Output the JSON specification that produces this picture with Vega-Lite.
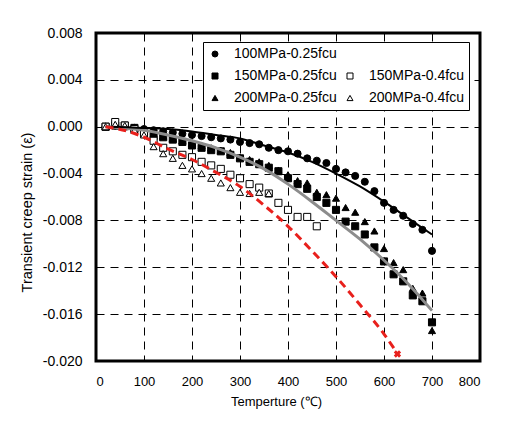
{
  "$schema": "https://vega.github.io/schema/vega-lite/v6.json",
  "width": 384,
  "height": 328,
  "autosize": "none",
  "padding": {"left": 96, "top": 33, "right": 29, "bottom": 70},
  "background": "white",
  "config": {
    "font": "Liberation Sans",
    "view": {"stroke": "black", "strokeWidth": 3},
    "axis": {
      "labelFont": "Liberation Sans", "labelFontSize": 13, "labelColor": "black",
      "titleFont": "Liberation Sans", "titleFontSize": 13, "titleFontWeight": "normal", "titleColor": "black",
      "domain": false, "ticks": false,
      "gridColor": "black", "gridDash": [8, 6], "gridWidth": 1, "gridOpacity": 1
    },
    "legend": {
      "title": null, "orient": "none", "legendX": 107, "legendY": 9, "columns": 2, "direction": "horizontal",
      "strokeColor": "black", "fillColor": "white", "padding": 5,
      "symbolSize": 36, "symbolStrokeWidth": 1,
      "labelOffset": 12, "labelFont": "Liberation Sans", "labelFontSize": 14, "labelColor": "black",
      "columnPadding": 6, "rowPadding": 8, "labelLimit": 300
    }
  },
  "datasets": {
    "points": [
      {"series": "100MPa-0.25fcu", "T": 20, "strain": 0.0000},
      {"series": "100MPa-0.25fcu", "T": 40, "strain": 0.0001},
      {"series": "100MPa-0.25fcu", "T": 60, "strain": 0.0000},
      {"series": "100MPa-0.25fcu", "T": 80, "strain": -0.0001},
      {"series": "100MPa-0.25fcu", "T": 100, "strain": -0.0002},
      {"series": "100MPa-0.25fcu", "T": 120, "strain": -0.0003},
      {"series": "100MPa-0.25fcu", "T": 140, "strain": -0.0004},
      {"series": "100MPa-0.25fcu", "T": 160, "strain": -0.0005},
      {"series": "100MPa-0.25fcu", "T": 180, "strain": -0.0006},
      {"series": "100MPa-0.25fcu", "T": 200, "strain": -0.0007},
      {"series": "100MPa-0.25fcu", "T": 220, "strain": -0.0008},
      {"series": "100MPa-0.25fcu", "T": 240, "strain": -0.0009},
      {"series": "100MPa-0.25fcu", "T": 260, "strain": -0.0010},
      {"series": "100MPa-0.25fcu", "T": 280, "strain": -0.0011},
      {"series": "100MPa-0.25fcu", "T": 300, "strain": -0.0013},
      {"series": "100MPa-0.25fcu", "T": 320, "strain": -0.0014},
      {"series": "100MPa-0.25fcu", "T": 340, "strain": -0.0015},
      {"series": "100MPa-0.25fcu", "T": 360, "strain": -0.0018},
      {"series": "100MPa-0.25fcu", "T": 380, "strain": -0.0020},
      {"series": "100MPa-0.25fcu", "T": 400, "strain": -0.0021},
      {"series": "100MPa-0.25fcu", "T": 420, "strain": -0.0023},
      {"series": "100MPa-0.25fcu", "T": 440, "strain": -0.0027},
      {"series": "100MPa-0.25fcu", "T": 460, "strain": -0.0029},
      {"series": "100MPa-0.25fcu", "T": 480, "strain": -0.0031},
      {"series": "100MPa-0.25fcu", "T": 500, "strain": -0.0036},
      {"series": "100MPa-0.25fcu", "T": 520, "strain": -0.0039},
      {"series": "100MPa-0.25fcu", "T": 540, "strain": -0.0042},
      {"series": "100MPa-0.25fcu", "T": 560, "strain": -0.0047},
      {"series": "100MPa-0.25fcu", "T": 580, "strain": -0.0055},
      {"series": "100MPa-0.25fcu", "T": 600, "strain": -0.0065},
      {"series": "100MPa-0.25fcu", "T": 620, "strain": -0.0071},
      {"series": "100MPa-0.25fcu", "T": 640, "strain": -0.0076},
      {"series": "100MPa-0.25fcu", "T": 660, "strain": -0.0083},
      {"series": "100MPa-0.25fcu", "T": 680, "strain": -0.0088},
      {"series": "100MPa-0.25fcu", "T": 700, "strain": -0.0106},
      {"series": "150MPa-0.25fcu", "T": 20, "strain": 0.0000},
      {"series": "150MPa-0.25fcu", "T": 40, "strain": 0.0001},
      {"series": "150MPa-0.25fcu", "T": 60, "strain": 0.0001},
      {"series": "150MPa-0.25fcu", "T": 80, "strain": -0.0001},
      {"series": "150MPa-0.25fcu", "T": 100, "strain": -0.0004},
      {"series": "150MPa-0.25fcu", "T": 120, "strain": -0.0008},
      {"series": "150MPa-0.25fcu", "T": 140, "strain": -0.0009},
      {"series": "150MPa-0.25fcu", "T": 160, "strain": -0.0011},
      {"series": "150MPa-0.25fcu", "T": 180, "strain": -0.0013},
      {"series": "150MPa-0.25fcu", "T": 200, "strain": -0.0016},
      {"series": "150MPa-0.25fcu", "T": 220, "strain": -0.0018},
      {"series": "150MPa-0.25fcu", "T": 240, "strain": -0.0020},
      {"series": "150MPa-0.25fcu", "T": 260, "strain": -0.0021},
      {"series": "150MPa-0.25fcu", "T": 280, "strain": -0.0024},
      {"series": "150MPa-0.25fcu", "T": 300, "strain": -0.0027},
      {"series": "150MPa-0.25fcu", "T": 320, "strain": -0.0030},
      {"series": "150MPa-0.25fcu", "T": 340, "strain": -0.0032},
      {"series": "150MPa-0.25fcu", "T": 360, "strain": -0.0035},
      {"series": "150MPa-0.25fcu", "T": 380, "strain": -0.0038},
      {"series": "150MPa-0.25fcu", "T": 400, "strain": -0.0044},
      {"series": "150MPa-0.25fcu", "T": 420, "strain": -0.0049},
      {"series": "150MPa-0.25fcu", "T": 440, "strain": -0.0053},
      {"series": "150MPa-0.25fcu", "T": 460, "strain": -0.0060},
      {"series": "150MPa-0.25fcu", "T": 480, "strain": -0.0065},
      {"series": "150MPa-0.25fcu", "T": 500, "strain": -0.0071},
      {"series": "150MPa-0.25fcu", "T": 520, "strain": -0.0081},
      {"series": "150MPa-0.25fcu", "T": 540, "strain": -0.0085},
      {"series": "150MPa-0.25fcu", "T": 560, "strain": -0.0092},
      {"series": "150MPa-0.25fcu", "T": 580, "strain": -0.0103},
      {"series": "150MPa-0.25fcu", "T": 600, "strain": -0.0115},
      {"series": "150MPa-0.25fcu", "T": 620, "strain": -0.0126},
      {"series": "150MPa-0.25fcu", "T": 640, "strain": -0.0132},
      {"series": "150MPa-0.25fcu", "T": 660, "strain": -0.0144},
      {"series": "150MPa-0.25fcu", "T": 680, "strain": -0.0149},
      {"series": "150MPa-0.25fcu", "T": 700, "strain": -0.0167},
      {"series": "200MPa-0.25fcu", "T": 20, "strain": 0.0000},
      {"series": "200MPa-0.25fcu", "T": 40, "strain": 0.0001},
      {"series": "200MPa-0.25fcu", "T": 60, "strain": 0.0000},
      {"series": "200MPa-0.25fcu", "T": 80, "strain": -0.0002},
      {"series": "200MPa-0.25fcu", "T": 100, "strain": -0.0004},
      {"series": "200MPa-0.25fcu", "T": 120, "strain": -0.0006},
      {"series": "200MPa-0.25fcu", "T": 140, "strain": -0.0008},
      {"series": "200MPa-0.25fcu", "T": 160, "strain": -0.0010},
      {"series": "200MPa-0.25fcu", "T": 180, "strain": -0.0012},
      {"series": "200MPa-0.25fcu", "T": 200, "strain": -0.0014},
      {"series": "200MPa-0.25fcu", "T": 220, "strain": -0.0016},
      {"series": "200MPa-0.25fcu", "T": 240, "strain": -0.0018},
      {"series": "200MPa-0.25fcu", "T": 260, "strain": -0.0020},
      {"series": "200MPa-0.25fcu", "T": 280, "strain": -0.0022},
      {"series": "200MPa-0.25fcu", "T": 300, "strain": -0.0026},
      {"series": "200MPa-0.25fcu", "T": 320, "strain": -0.0028},
      {"series": "200MPa-0.25fcu", "T": 340, "strain": -0.0030},
      {"series": "200MPa-0.25fcu", "T": 360, "strain": -0.0033},
      {"series": "200MPa-0.25fcu", "T": 380, "strain": -0.0037},
      {"series": "200MPa-0.25fcu", "T": 400, "strain": -0.0041},
      {"series": "200MPa-0.25fcu", "T": 420, "strain": -0.0046},
      {"series": "200MPa-0.25fcu", "T": 440, "strain": -0.0048},
      {"series": "200MPa-0.25fcu", "T": 460, "strain": -0.0056},
      {"series": "200MPa-0.25fcu", "T": 480, "strain": -0.0058},
      {"series": "200MPa-0.25fcu", "T": 500, "strain": -0.0061},
      {"series": "200MPa-0.25fcu", "T": 520, "strain": -0.0069},
      {"series": "200MPa-0.25fcu", "T": 540, "strain": -0.0073},
      {"series": "200MPa-0.25fcu", "T": 560, "strain": -0.0081},
      {"series": "200MPa-0.25fcu", "T": 580, "strain": -0.0089},
      {"series": "200MPa-0.25fcu", "T": 600, "strain": -0.0104},
      {"series": "200MPa-0.25fcu", "T": 620, "strain": -0.0116},
      {"series": "200MPa-0.25fcu", "T": 640, "strain": -0.0122},
      {"series": "200MPa-0.25fcu", "T": 660, "strain": -0.0138},
      {"series": "200MPa-0.25fcu", "T": 680, "strain": -0.0142},
      {"series": "200MPa-0.25fcu", "T": 700, "strain": -0.0174},
      {"series": "150MPa-0.4fcu", "T": 20, "strain": 0.0000},
      {"series": "150MPa-0.4fcu", "T": 40, "strain": 0.0004},
      {"series": "150MPa-0.4fcu", "T": 60, "strain": 0.0001},
      {"series": "150MPa-0.4fcu", "T": 80, "strain": -0.0002},
      {"series": "150MPa-0.4fcu", "T": 100, "strain": -0.0006},
      {"series": "150MPa-0.4fcu", "T": 120, "strain": -0.0012},
      {"series": "150MPa-0.4fcu", "T": 140, "strain": -0.0018},
      {"series": "150MPa-0.4fcu", "T": 160, "strain": -0.0021},
      {"series": "150MPa-0.4fcu", "T": 180, "strain": -0.0024},
      {"series": "150MPa-0.4fcu", "T": 200, "strain": -0.0026},
      {"series": "150MPa-0.4fcu", "T": 220, "strain": -0.0030},
      {"series": "150MPa-0.4fcu", "T": 240, "strain": -0.0033},
      {"series": "150MPa-0.4fcu", "T": 260, "strain": -0.0036},
      {"series": "150MPa-0.4fcu", "T": 280, "strain": -0.0041},
      {"series": "150MPa-0.4fcu", "T": 300, "strain": -0.0044},
      {"series": "150MPa-0.4fcu", "T": 320, "strain": -0.0049},
      {"series": "150MPa-0.4fcu", "T": 340, "strain": -0.0052},
      {"series": "150MPa-0.4fcu", "T": 360, "strain": -0.0057},
      {"series": "150MPa-0.4fcu", "T": 380, "strain": -0.0065},
      {"series": "150MPa-0.4fcu", "T": 400, "strain": -0.0071},
      {"series": "150MPa-0.4fcu", "T": 420, "strain": -0.0077},
      {"series": "150MPa-0.4fcu", "T": 440, "strain": -0.0077},
      {"series": "150MPa-0.4fcu", "T": 460, "strain": -0.0085},
      {"series": "200MPa-0.4fcu", "T": 20, "strain": 0.0000},
      {"series": "200MPa-0.4fcu", "T": 40, "strain": 0.0002},
      {"series": "200MPa-0.4fcu", "T": 60, "strain": 0.0001},
      {"series": "200MPa-0.4fcu", "T": 80, "strain": -0.0003},
      {"series": "200MPa-0.4fcu", "T": 100, "strain": -0.0007},
      {"series": "200MPa-0.4fcu", "T": 120, "strain": -0.0017},
      {"series": "200MPa-0.4fcu", "T": 140, "strain": -0.0023},
      {"series": "200MPa-0.4fcu", "T": 160, "strain": -0.0027},
      {"series": "200MPa-0.4fcu", "T": 180, "strain": -0.0033},
      {"series": "200MPa-0.4fcu", "T": 200, "strain": -0.0036},
      {"series": "200MPa-0.4fcu", "T": 220, "strain": -0.0040},
      {"series": "200MPa-0.4fcu", "T": 240, "strain": -0.0044},
      {"series": "200MPa-0.4fcu", "T": 260, "strain": -0.0048},
      {"series": "200MPa-0.4fcu", "T": 280, "strain": -0.0052},
      {"series": "200MPa-0.4fcu", "T": 300, "strain": -0.0056},
      {"series": "200MPa-0.4fcu", "T": 320, "strain": -0.0057},
      {"series": "200MPa-0.4fcu", "T": 340, "strain": -0.0056},
      {"series": "200MPa-0.4fcu", "T": 360, "strain": -0.0057}
    ],
    "curves": [
      {"curve": "fit-100", "T": 20, "strain": 0.0000},
      {"curve": "fit-100", "T": 100, "strain": -0.0001},
      {"curve": "fit-100", "T": 150, "strain": -0.0002},
      {"curve": "fit-100", "T": 200, "strain": -0.0004},
      {"curve": "fit-100", "T": 250, "strain": -0.0007},
      {"curve": "fit-100", "T": 300, "strain": -0.0010},
      {"curve": "fit-100", "T": 350, "strain": -0.0016},
      {"curve": "fit-100", "T": 400, "strain": -0.0022},
      {"curve": "fit-100", "T": 450, "strain": -0.0030},
      {"curve": "fit-100", "T": 500, "strain": -0.0040},
      {"curve": "fit-100", "T": 550, "strain": -0.0051},
      {"curve": "fit-100", "T": 600, "strain": -0.0064},
      {"curve": "fit-100", "T": 650, "strain": -0.0078},
      {"curve": "fit-100", "T": 700, "strain": -0.0092},
      {"curve": "fit-0.25", "T": 20, "strain": 0.0000},
      {"curve": "fit-0.25", "T": 100, "strain": -0.0003},
      {"curve": "fit-0.25", "T": 150, "strain": -0.0007},
      {"curve": "fit-0.25", "T": 200, "strain": -0.0012},
      {"curve": "fit-0.25", "T": 250, "strain": -0.0018},
      {"curve": "fit-0.25", "T": 300, "strain": -0.0026},
      {"curve": "fit-0.25", "T": 350, "strain": -0.0036},
      {"curve": "fit-0.25", "T": 400, "strain": -0.0049},
      {"curve": "fit-0.25", "T": 450, "strain": -0.0064},
      {"curve": "fit-0.25", "T": 500, "strain": -0.0080},
      {"curve": "fit-0.25", "T": 550, "strain": -0.0096},
      {"curve": "fit-0.25", "T": 600, "strain": -0.0114},
      {"curve": "fit-0.25", "T": 650, "strain": -0.0134},
      {"curve": "fit-0.25", "T": 700, "strain": -0.0157},
      {"curve": "fit-0.4", "T": 20, "strain": 0.0000},
      {"curve": "fit-0.4", "T": 67, "strain": -0.0004},
      {"curve": "fit-0.4", "T": 100, "strain": -0.0009},
      {"curve": "fit-0.4", "T": 150, "strain": -0.0019},
      {"curve": "fit-0.4", "T": 200, "strain": -0.0028},
      {"curve": "fit-0.4", "T": 250, "strain": -0.0039},
      {"curve": "fit-0.4", "T": 300, "strain": -0.0051},
      {"curve": "fit-0.4", "T": 350, "strain": -0.0067},
      {"curve": "fit-0.4", "T": 400, "strain": -0.0085},
      {"curve": "fit-0.4", "T": 450, "strain": -0.0106},
      {"curve": "fit-0.4", "T": 500, "strain": -0.0128},
      {"curve": "fit-0.4", "T": 550, "strain": -0.0152},
      {"curve": "fit-0.4", "T": 600, "strain": -0.0177},
      {"curve": "fit-0.4", "T": 622, "strain": -0.0190}
    ],
    "failure": [
      {"T": 628, "strain": -0.0194}
    ]
  },
  "layer": [
    {
      "data": {"name": "points"},
      "mark": {"type": "point", "filled": false, "strokeWidth": 1, "size": 50, "opacity": 1, "fillOpacity": 1, "strokeOpacity": 1},
      "encoding": {
        "x": {
          "field": "T", "type": "quantitative",
          "scale": {"domain": [0, 800], "nice": false, "zero": false},
          "axis": {"title": "Temperture (\u2103)", "values": [0, 100, 200, 300, 400, 500, 600, 700, 800], "labelPadding": 14, "titlePadding": 7, "titleX": 180}
        },
        "y": {
          "field": "strain", "type": "quantitative",
          "scale": {"domain": [-0.02, 0.008], "nice": false, "zero": false},
          "axis": {
            "title": "Transient creep strain (\u03b5)",
            "values": [-0.02, -0.016, -0.012, -0.008, -0.004, 0, 0.004, 0.008],
            "labelExpr": "replace(format(datum.value, '.3f'), '\u2212', '-')",
            "labelFontSize": 14, "titleFontSize": 14.5,
            "labelPadding": 14, "titlePadding": 8, "titleY": 179
          }
        },
        "shape": {
          "field": "series", "type": "nominal",
          "scale": {
            "domain": ["100MPa-0.25fcu", " ", "150MPa-0.25fcu", "150MPa-0.4fcu", "200MPa-0.25fcu", "200MPa-0.4fcu"],
            "range": ["circle", "M0,0", "square", "square", "triangle-up", "triangle-up"]
          }
        },
        "fill": {
          "field": "series", "type": "nominal",
          "scale": {
            "domain": ["100MPa-0.25fcu", " ", "150MPa-0.25fcu", "150MPa-0.4fcu", "200MPa-0.25fcu", "200MPa-0.4fcu"],
            "range": ["black", "transparent", "black", "white", "black", "white"]
          }
        },
        "stroke": {
          "field": "series", "type": "nominal",
          "scale": {
            "domain": ["100MPa-0.25fcu", " ", "150MPa-0.25fcu", "150MPa-0.4fcu", "200MPa-0.25fcu", "200MPa-0.4fcu"],
            "range": ["black", "transparent", "black", "black", "black", "black"]
          }
        }
      }
    },
    {
      "data": {"name": "curves"},
      "transform": [{"filter": "datum.curve == 'fit-0.25'"}],
      "mark": {"type": "line", "interpolate": "monotone", "color": "#8c8c8c", "strokeWidth": 3},
      "encoding": {"x": {"field": "T", "type": "quantitative"}, "y": {"field": "strain", "type": "quantitative"}}
    },
    {
      "data": {"name": "curves"},
      "transform": [{"filter": "datum.curve == 'fit-100'"}],
      "mark": {"type": "line", "interpolate": "monotone", "color": "black", "strokeWidth": 2},
      "encoding": {"x": {"field": "T", "type": "quantitative"}, "y": {"field": "strain", "type": "quantitative"}}
    },
    {
      "data": {"name": "curves"},
      "transform": [{"filter": "datum.curve == 'fit-0.4'"}],
      "mark": {"type": "line", "interpolate": "monotone", "color": "#e8201c", "strokeWidth": 3, "strokeDash": [8, 5]},
      "encoding": {"x": {"field": "T", "type": "quantitative"}, "y": {"field": "strain", "type": "quantitative"}}
    },
    {
      "data": {"name": "failure"},
      "mark": {"type": "point", "shape": "cross", "angle": 45, "filled": true, "color": "#e8201c", "strokeWidth": 0, "size": 55, "opacity": 1},
      "encoding": {"x": {"field": "T", "type": "quantitative"}, "y": {"field": "strain", "type": "quantitative"}}
    }
  ]
}
